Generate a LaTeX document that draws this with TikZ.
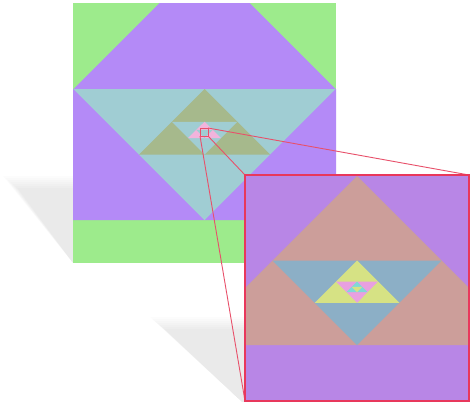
\documentclass[tikz,border=0pt]{standalone}
\begin{document}
\begin{tikzpicture}[x=1pt,y=-1pt,
  zoomline/.style={draw=zred,line width=0.9pt,line join=round},
  framebox/.style={draw=zframe,line width=1.2pt}]
\definecolor{mgreen}{HTML}{9DEB8C}
\definecolor{mpurple}{HTML}{B48AF7}
\definecolor{mcyan}{HTML}{A0CDD3}
\definecolor{molive}{HTML}{A6B98C}
\definecolor{mpink}{HTML}{F2B4DC}
\definecolor{ipurple}{HTML}{B886E6}
\definecolor{isalmon}{HTML}{CC9E9A}
\definecolor{iblue}{HTML}{8CAFC6}
\definecolor{iyellow}{HTML}{D6E284}
\definecolor{ipink}{HTML}{E8A0E0}
\definecolor{icyan}{HTML}{80D8D8}
\definecolor{zred}{HTML}{E8506A}
\definecolor{zframe}{HTML}{E8385C}
\useasboundingbox (0,0) rectangle (470,407);
\fill[white] (0,0) rectangle (470,407);

% named coordinates
\coordinate (mtl) at (73,3);
\coordinate (mbr) at (336,263);
\coordinate (stl) at (200,128);
\coordinate (str) at (208,128);
\coordinate (sbl) at (200,136);
\coordinate (sbr) at (208,136);
\coordinate (itl) at (245,175);
\coordinate (itr) at (469,175);
\coordinate (ibl) at (245,401);
\coordinate (ibr) at (469,401);

% soft shadows
\foreach \d in {0,2,4,6,8,10,12}{
  \fill[black,opacity=0.013] (3+1.2*\d,176+\d) -- (220,176+\d) -- (240,263) -- (73,263) -- cycle;
  \fill[black,opacity=0.013] (150+1.2*\d,317+\d) -- (330,317+\d) -- (350,402) -- (242,402) -- cycle;
}

% main square
\begin{scope}
  \clip (mtl) rectangle (mbr);
  \fill[mgreen] (mtl) rectangle (mbr);
  \fill[mpurple] (204.5,-42) -- (335.5,89) -- (340,89) -- (340,220) -- (60,220) -- (60,89) -- (73.5,89) -- cycle;
  \fill[mcyan] (73.5,89) -- (335.5,89) -- (204.5,220) -- cycle;
  \fill[molive] (204.5,89) -- (270,154.5) -- (139,154.5) -- cycle;
  \fill[mcyan] (171.75,121.75) -- (237.25,121.75) -- (204.5,154.5) -- cycle;
  \fill[mpink] (204.5,121.75) -- (220.9,138.1) -- (188.1,138.1) -- cycle;
  \fill[mcyan] (196.3,129.9) -- (212.7,129.9) -- (204.5,138.1) -- cycle;
\end{scope}

% small zoom square and connectors
\draw[zoomline] (stl) rectangle (sbr);
\draw[zoomline] (str) -- (itr);
\draw[zoomline] (sbr) -- (itl);
\draw[zoomline] (sbl) -- (ibl);

% inset
\begin{scope}
  \clip (itl) rectangle (ibr);
  \fill[ipurple] (itl) rectangle (ibr);
  \fill[isalmon] (357,176) -- (526,345) -- (188,345) -- cycle;
  \fill[iblue] (272.5,260.5) -- (441.5,260.5) -- (357,345) -- cycle;
  \fill[iyellow] (357,260.5) -- (399.25,302.75) -- (314.75,302.75) -- cycle;
  \fill[ipink] (335.9,281.6) -- (378.1,281.6) -- (357,302.75) -- cycle;
  \fill[icyan] (357,281.6) -- (367.6,292.2) -- (346.4,292.2) -- cycle;
  \fill[iyellow] (351.7,286.9) -- (362.3,286.9) -- (357,292.2) -- cycle;
\end{scope}
\draw[framebox] (itl) rectangle (ibr);
\end{tikzpicture}
\end{document}
